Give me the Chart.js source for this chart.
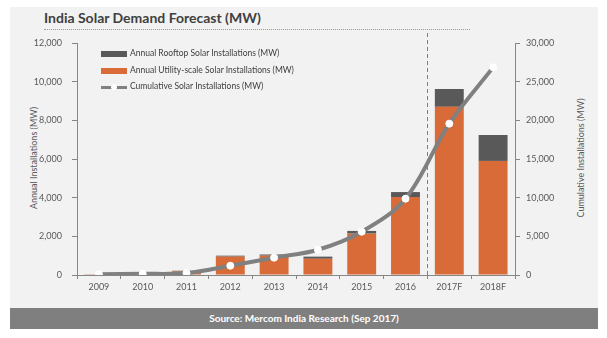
<!DOCTYPE html>
<html><head><meta charset="utf-8">
<script src="https://cdn.jsdelivr.net/npm/chart.js@4"></script>
<style>
body{margin:0;width:607px;height:338px;background:#fff;position:relative;overflow:hidden;font-family:Lato,"Open Sans",sans-serif;}
#panel{position:absolute;left:10px;top:7px;width:588px;height:301px;background:#f2f2f2;}
#footer{position:absolute;left:10px;top:308px;width:588px;height:21px;background:#7f7f7f;color:#fff;font-weight:bold;font-size:10px;text-align:center;line-height:21px;}
#title{position:absolute;left:44px;top:9px;font-size:14px;font-weight:bold;color:#404040;white-space:nowrap;}
#rule{position:absolute;left:44px;top:29px;width:426px;border-top:1px dotted #9a9a9a;}
canvas{position:absolute;left:0;top:0;}
.ytitle{position:absolute;font-size:9px;color:#595959;white-space:nowrap;transform:translate(-50%,-50%) rotate(-90deg);}
.leg{position:absolute;left:101px;height:10px;font-size:8.5px;color:#404040;white-space:nowrap;}
.sw{position:absolute;left:0;width:26px;}
.lt{position:absolute;left:29px;top:-1px;line-height:10px;}
</style></head>
<body>
<div id="panel"></div>
<div id="title">India Solar Demand Forecast (MW)</div>
<div id="rule"></div>
<div id="footer">Source: Mercom India Research (Sep 2017)</div>
<div class="ytitle" style="left:33px;top:158px;">Annual Installations (MW)</div>
<div class="ytitle" style="left:580px;top:158px;">Cumulative Installations (MW)</div>
<canvas id="c" width="607" height="338"></canvas>
<div class="leg" style="top:49px;"><div class="sw" style="top:2px;height:6px;background:#595959;"></div><div class="lt">Annual Rooftop Solar Installations (MW)</div></div>
<div class="leg" style="top:66px;"><div class="sw" style="top:2px;height:6px;background:#d86b37;"></div><div class="lt">Annual Utility-scale Solar Installations (MW)</div></div>
<div class="leg" style="top:82px;"><div class="sw" style="top:4px;height:3px;background:#808080;"></div><div style="position:absolute;left:10px;top:2px;width:6px;height:6px;border-radius:3px;background:#fff;"></div><div class="lt">Cumulative Solar Installations (MW)</div></div>
<script>
const categories = ['2009','2010','2011','2012','2013','2014','2015','2016','2017F','2018F'];
const utilityMW = [15, 30, 190, 950, 1000, 840, 2140, 4030, 8700, 5900];
const rooftopMW = [5, 10, 30, 50, 60, 110, 140, 260, 920, 1340];
const cumulativeMW = [100, 150, 250, 1200, 2240, 3270, 5600, 9870, 19570, 26850];
const forecastStart = '2017F';

const axisColor = '#868686';
const tickFont = {family: 'Lato', size: 9};
const fmt = v => Number(v).toLocaleString('en-US');

const dividerPlugin = {
  id: 'divider',
  beforeDatasetsDraw(chart) {
    const x = chart.scales.x;
    const idx = categories.indexOf(forecastStart);
    const px = (x.getPixelForValue(idx - 1) + x.getPixelForValue(idx)) / 2;
    const ctx = chart.ctx;
    ctx.save();
    ctx.strokeStyle = '#7f7f7f';
    ctx.lineWidth = 1;
    ctx.setLineDash([4, 3]);
    ctx.beginPath();
    ctx.moveTo(Math.round(px) + 0.5, 33);
    ctx.lineTo(Math.round(px) + 0.5, chart.chartArea.bottom);
    ctx.stroke();
    ctx.restore();
  }
};

new Chart(document.getElementById('c'), {
  data: {
    labels: categories,
    datasets: [
      {type: 'line', label: 'Cumulative Solar Installations (MW)', data: cumulativeMW, yAxisID: 'y1', order: 0,
       borderColor: '#808080', borderWidth: 4, tension: 0.35, pointRadius: 3.5, pointBackgroundColor: '#fff', pointBorderColor: '#fff', pointBorderWidth: 1},
      {type: 'bar', label: 'Annual Utility-scale Solar Installations (MW)', data: utilityMW, yAxisID: 'y', order: 1,
       backgroundColor: '#d86b37', categoryPercentage: 1, barPercentage: 0.66, stack: 's'},
      {type: 'bar', label: 'Annual Rooftop Solar Installations (MW)', data: rooftopMW, yAxisID: 'y', order: 2,
       backgroundColor: '#595959', categoryPercentage: 1, barPercentage: 0.66, stack: 's'}
    ]
  },
  options: {
    responsive: false,
    animation: false,
    layout: {padding: {top: 43, left: 0, right: 0, bottom: 0}},
    plugins: {legend: {display: false}, tooltip: {enabled: false}},
    scales: {
      x: {
        stacked: true,
        grid: {display: true, offset: true, drawOnChartArea: false, drawTicks: true, tickLength: 4, color: axisColor},
        border: {display: true, color: axisColor},
        ticks: {font: tickFont, color: '#595959', padding: 3, maxRotation: 0},
        afterFit(s) { s.height = 63; }
      },
      y: {
        position: 'left', stacked: true, min: 0, max: 12000,
        grid: {drawOnChartArea: false, drawTicks: true, tickLength: 5, color: axisColor},
        border: {display: true, color: axisColor},
        ticks: {stepSize: 2000, font: tickFont, color: '#595959', padding: 10, callback: fmt},
        afterFit(s) { s.width = 77; }
      },
      y1: {
        position: 'right', min: 0, max: 30000,
        grid: {drawOnChartArea: false, drawTicks: true, tickLength: 5, color: axisColor},
        border: {display: true, color: axisColor},
        ticks: {stepSize: 5000, font: tickFont, color: '#595959', padding: 6, callback: fmt},
        afterFit(s) { s.width = 92; }
      }
    }
  },
  plugins: [dividerPlugin]
});
</script>
</body></html>
